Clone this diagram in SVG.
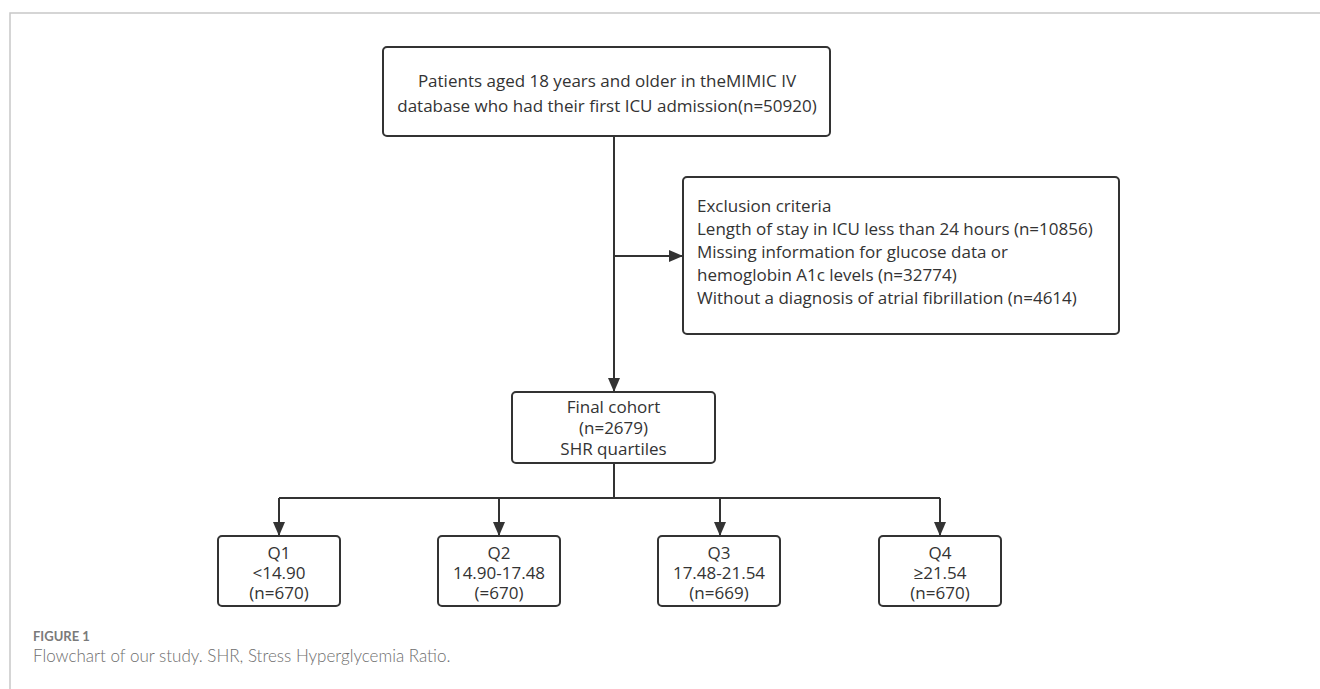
<svg xmlns="http://www.w3.org/2000/svg" width="1320" height="689" viewBox="0 0 1320 689">
<style>
.box{fill:#fff;stroke:#333;stroke-width:2}
.t{font-family:"Open Sans","Noto Sans",sans-serif;font-size:17px;fill:#333}
.c{text-anchor:middle}
.ln{fill:none;stroke:#333;stroke-width:2}
.frame{fill:none;stroke:#c8c8c8;stroke-width:1.5}
</style>
<defs>
<marker id="ah" viewBox="0 0 14 12" refX="14" refY="6" markerWidth="14" markerHeight="12" markerUnits="userSpaceOnUse" orient="auto">
<path d="M0,0 L14,6 L0,12 Z" fill="#333"/>
</marker>
</defs>
<rect width="1320" height="689" fill="#fff"/>
<path class="frame" d="M10,689 V13 H1320"/>
<g id="connectors">
<path class="ln" d="M614,136 V392" marker-end="url(#ah)"/>
<path class="ln" d="M614,256 H683" marker-end="url(#ah)"/>
<path class="ln" d="M614,463 V498 M279,498 H940"/>
<path class="ln" d="M279,498 V536" marker-end="url(#ah)"/>
<path class="ln" d="M499,498 V536" marker-end="url(#ah)"/>
<path class="ln" d="M720,498 V536" marker-end="url(#ah)"/>
<path class="ln" d="M940,498 V536" marker-end="url(#ah)"/>
</g>
<g id="start">
<rect class="box" x="383" y="47" width="447" height="89" rx="4"/>
<text class="t c" x="607" y="87">Patients aged 18 years and older in theMIMIC IV</text>
<text class="t c" x="607" y="112">database who had their first ICU admission(n=50920)</text>
</g>
<g id="exclusion">
<rect class="box" x="683" y="177" width="436" height="157" rx="4"/>
<text class="t" x="697" y="212">Exclusion criteria</text>
<text class="t" x="697" y="235">Length of stay in ICU less than 24 hours (n=10856)</text>
<text class="t" x="697" y="258">Missing information for glucose data or</text>
<text class="t" x="697" y="281">hemoglobin A1c levels (n=32774)</text>
<text class="t" x="697" y="304">Without a diagnosis of atrial fibrillation (n=4614)</text>
</g>
<g id="final">
<rect class="box" x="512" y="392" width="203" height="71" rx="4"/>
<text class="t c" x="613.5" y="413">Final cohort</text>
<text class="t c" x="613.5" y="434">(n=2679)</text>
<text class="t c" x="613.5" y="455">SHR quartiles</text>
</g>
<g id="q1">
<rect class="box" x="218" y="536" width="122" height="70" rx="4"/>
<text class="t c" x="279" y="559">Q1</text>
<text class="t c" x="279" y="579">&lt;14.90</text>
<text class="t c" x="279" y="599">(n=670)</text>
</g>
<g id="q2">
<rect class="box" x="438" y="536" width="122" height="70" rx="4"/>
<text class="t c" x="499" y="559">Q2</text>
<text class="t c" x="499" y="579">14.90-17.48</text>
<text class="t c" x="499" y="599">(=670)</text>
</g>
<g id="q3">
<rect class="box" x="658" y="536" width="122" height="70" rx="4"/>
<text class="t c" x="719" y="559">Q3</text>
<text class="t c" x="719" y="579">17.48-21.54</text>
<text class="t c" x="719" y="599">(n=669)</text>
</g>
<g id="q4">
<rect class="box" x="879" y="536" width="122" height="70" rx="4"/>
<text class="t c" x="940" y="559">Q4</text>
<text class="t c" x="940" y="579">≥21.54</text>
<text class="t c" x="940" y="599">(n=670)</text>
</g>
<g id="caption">
<text x="33" y="641" font-family="Lato,'Open Sans',sans-serif" font-size="13" font-weight="bold" fill="#7a7a7a">FIGURE 1</text>
<text x="33" y="662" font-family="Lato,'Open Sans',sans-serif" font-size="17" font-weight="300" fill="#6e6e6e">Flowchart of our study. SHR, Stress Hyperglycemia Ratio.</text>
</g>
</svg>
